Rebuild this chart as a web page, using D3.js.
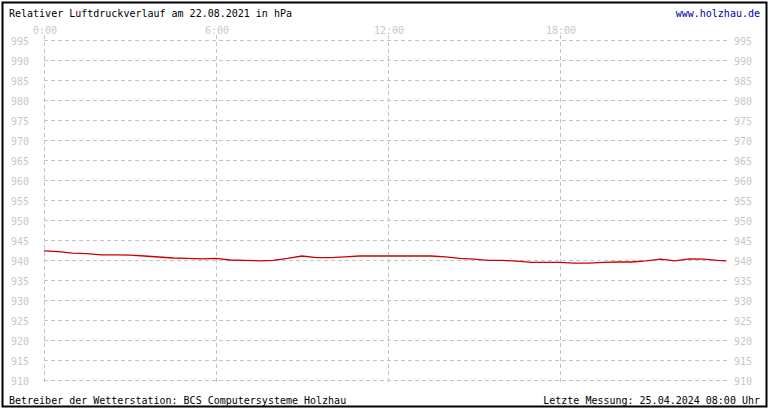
<!DOCTYPE html>
<html>
<head>
<meta charset="utf-8">
<script src="https://cdn.jsdelivr.net/npm/d3@7"></script>
<style>
  body { margin: 0; background: #fff; }
  text { font-family: "DejaVu Sans Mono", monospace; font-size: 10px; }
</style>
</head>
<body>
<div id="plot"></div>
<script>
// Stunden seit Mitternacht und Luftdruck in hPa
const hours = [0, 0.5, 1, 1.5, 2, 2.5, 3, 3.5, 4, 4.5, 5, 5.5, 6, 6.5, 7, 7.5, 8, 8.5,
  9, 9.5, 10, 10.5, 11, 11.5, 12, 12.5, 13, 13.5, 14, 14.5, 15, 15.5, 16, 16.5,
  17, 17.5, 18, 18.5, 19, 19.5, 20, 20.5, 21, 21.5, 22, 22.5, 23, 23.5, 23.8];
const pressure = [942.3, 942.1, 941.7, 941.6, 941.3, 941.3, 941.2, 941.0, 940.75, 940.5,
  940.4, 940.3, 940.4, 940.0, 939.9, 939.8, 939.9, 940.4, 941.0, 940.6, 940.6, 940.8,
  941.0, 941.0, 941.0, 941.0, 941.0, 941.0, 940.8, 940.4, 940.2, 939.9, 939.9, 939.7,
  939.4, 939.4, 939.4, 939.2, 939.2, 939.4, 939.5, 939.5, 939.8, 940.2, 939.8, 940.3,
  940.2, 939.9, 939.8];
const yTicks = d3.range(910, 1000, 5);
const xTicks = [0, 6, 12, 18];
const xTickLabels = ["0:00", "6:00", "12:00", "18:00"];

const width = 770, height = 410;
const margin = {top: 40, right: 38, bottom: 30, left: 44};

const svg = d3.select("#plot").append("svg")
  .attr("width", width)
  .attr("height", height);

const x = d3.scaleLinear([0, 24], [margin.left, width - margin.right]);
const y = d3.scaleLinear([910, 995], [height - margin.bottom, margin.top]);

// Rahmen
svg.append("rect")
  .attr("x", 2.5).attr("y", 2.5)
  .attr("width", 764).attr("height", 404)
  .attr("fill", "none")
  .attr("stroke", "#000")
  .attr("stroke-width", 2);

// Gitter
const grid = svg.append("g")
  .attr("stroke", "#c4c4c4")
  .attr("stroke-dasharray", "4,3")
  .attr("shape-rendering", "crispEdges");
grid.selectAll("line.h")
  .data(yTicks)
  .join("line")
    .attr("class", "h")
    .attr("x1", x(0)).attr("x2", x(24) - 2)
    .attr("y1", d => Math.round(y(d)) + 0.5)
    .attr("y2", d => Math.round(y(d)) + 0.5);
grid.selectAll("line.v")
  .data(xTicks)
  .join("line")
    .attr("class", "v")
    .attr("x1", d => Math.round(x(d)) + 0.5)
    .attr("x2", d => Math.round(x(d)) + 0.5)
    .attr("y1", 35).attr("y2", y(910) + 5);

// Achsenbeschriftung
const labelColor = "#c8c8c8";
svg.append("g").selectAll("text")
  .data(yTicks)
  .join("text")
    .attr("x", 29)
    .attr("y", d => y(d) + 4.5)
    .attr("text-anchor", "end")
    .attr("fill", labelColor)
    .text(d => d);
svg.append("g").selectAll("text")
  .data(yTicks)
  .join("text")
    .attr("x", 734)
    .attr("y", d => y(d) + 4.5)
    .attr("fill", labelColor)
    .text(d => d);
svg.append("g").selectAll("text")
  .data(xTicks)
  .join("text")
    .attr("x", d => x(d) + 1)
    .attr("y", 34)
    .attr("text-anchor", "middle")
    .attr("fill", labelColor)
    .text((d, i) => xTickLabels[i]);

// Luftdruckkurve
const line = d3.line()
  .x((d, i) => x(hours[i]))
  .y(d => y(d));
svg.append("path")
  .datum(pressure)
  .attr("fill", "none")
  .attr("stroke", "#cc0000")
  .attr("stroke-width", 1.3)
  .attr("d", line);

// Titel und Fusszeile
svg.append("text")
  .attr("x", 9).attr("y", 17)
  .attr("fill", "#000")
  .text("Relativer Luftdruckverlauf am 22.08.2021 in hPa");
svg.append("text")
  .attr("x", 760).attr("y", 17)
  .attr("text-anchor", "end")
  .attr("fill", "#0000a0")
  .text("www.holzhau.de");
svg.append("text")
  .attr("x", 9).attr("y", 404)
  .attr("fill", "#000")
  .text("Betreiber der Wetterstation: BCS Computersysteme Holzhau");
svg.append("text")
  .attr("x", 760).attr("y", 404)
  .attr("text-anchor", "end")
  .attr("fill", "#000")
  .text("Letzte Messung: 25.04.2024 08:00 Uhr");
</script>
</body>
</html>
